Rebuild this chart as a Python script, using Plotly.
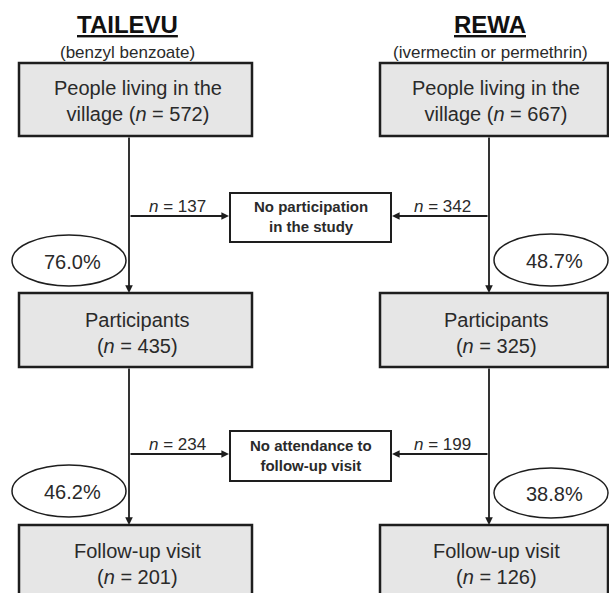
import plotly.graph_objects as go

# ---- data ----
sites = ["TAILEVU", "REWA"]
treatments = ["benzyl benzoate", "ivermectin or permethrin"]
village_n = [572, 667]
participants_n = [435, 325]
followup_n = [201, 126]
no_participation_n = [137, 342]
no_attendance_n = [234, 199]
participation_pct = [76.0, 48.7]
attendance_pct = [46.2, 38.8]
middle_labels = ["No participation<br>in the study", "No attendance to<br>follow-up visit"]

# ---- geometry (pixel layout) ----
W, H = 609, 593
col_box_x = [(19, 252), (380, 608)]
col_line_x = [129, 489]
title_x = [127, 490]
row_box_y = [(63, 136), (293, 367), (525, 640)]
mid_box_x = (230, 391)
mid_box_y = [(193, 242), (431, 481)]
arrow_y = [216, 454]
nlabel_x = [177, 442]
ell_x = [(12, 126), (494, 608)]
ell_y = [[(235, 286), (234, 286)], [(465, 517), (468, 518)]]

FONT = "Liberation Sans, Arial, sans-serif"
INK = "#1e1e1e"
TXT = "#2a2a2a"
GREY = "#e6e6e6"

fig = go.Figure()
fig.add_trace(go.Scatter(x=[0, W], y=[0, H], mode="markers",
                         marker=dict(opacity=0), hoverinfo="skip", showlegend=False))

shapes = []
ann = []

def text(x, y, s, size, bold=False, color=TXT):
    ann.append(dict(x=x, y=y, xref="x", yref="y", text=(f"<b>{s}</b>" if bold else s),
                    showarrow=False, xanchor="center", yanchor="middle",
                    font=dict(family=FONT, size=size, color=color)))

def arrow(x0, y0, x1, y1):
    ann.append(dict(x=x1, y=y1, ax=x0, ay=y0, xref="x", yref="y", axref="x", ayref="y",
                    text="", showarrow=True, arrowhead=2, arrowsize=0.85,
                    arrowwidth=1.8, arrowcolor=INK, standoff=0))

row_texts = [
    [f"People living in the<br>village (<i>n</i> = {v})" for v in village_n],
    [f"Participants<br>(<i>n</i> = {v})" for v in participants_n],
    [f"Follow-up visit<br>(<i>n</i> = {v})" for v in followup_n],
]
row_text_y = [100.5, 332.5, 563.5]

for c in range(2):
    x0, x1 = col_box_x[c]
    lx = col_line_x[c]
    # titles
    text(title_x[c], 24, f"<u>{sites[c]}</u>", 24, bold=True, color="#111")
    text(title_x[c], 52, f"({treatments[c]})", 17, color=TXT)
    # main boxes
    for r in range(3):
        y0, y1 = row_box_y[r]
        shapes.append(dict(type="rect", xref="x", yref="y", x0=x0, x1=x1, y0=y0, y1=y1,
                           fillcolor=GREY, line=dict(color=INK, width=2.5), layer="below"))
        text((x0 + x1) / 2 + 2, row_text_y[r], row_texts[r][c], 20)
    # vertical connectors
    for r in range(2):
        arrow(lx, row_box_y[r][1], lx, row_box_y[r + 1][0])
    # side arrows to middle boxes
    counts = [no_participation_n[c], no_attendance_n[c]]
    pcts = [participation_pct[c], attendance_pct[c]]
    for r in range(2):
        target = mid_box_x[0] - 1 if c == 0 else mid_box_x[1] + 1
        arrow(lx, arrow_y[r], target, arrow_y[r])
        text(nlabel_x[c], arrow_y[r] - 10, f"<i>n</i> = {counts[r]}", 17)
        ex0, ex1 = ell_x[c]
        ey0, ey1 = ell_y[r][c]
        shapes.append(dict(type="circle", xref="x", yref="y", x0=ex0, x1=ex1, y0=ey0, y1=ey1,
                           fillcolor="white", line=dict(color=INK, width=1.5)))
        text((ex0 + ex1) / 2 + 3, (ey0 + ey1) / 2 + 1, f"{pcts[r]:.1f}%", 20)

for r in range(2):
    y0, y1 = mid_box_y[r]
    shapes.append(dict(type="rect", xref="x", yref="y", x0=mid_box_x[0], x1=mid_box_x[1],
                       y0=y0, y1=y1, fillcolor="white", line=dict(color=INK, width=2)))
    text((mid_box_x[0] + mid_box_x[1]) / 2, (y0 + y1) / 2 - 1, middle_labels[r], 15, bold=True)

fig.update_layout(
    width=W, height=H, margin=dict(l=0, r=0, t=0, b=0),
    paper_bgcolor="white", plot_bgcolor="white",
    xaxis=dict(range=[0, W], visible=False, fixedrange=True),
    yaxis=dict(range=[H, 0], visible=False, fixedrange=True),
    shapes=shapes, annotations=ann, showlegend=False,
)
fig.write_html("out.html", config={"displayModeBar": False},
               post_script="document.body.style.margin='0';document.body.style.overflow='hidden';")
